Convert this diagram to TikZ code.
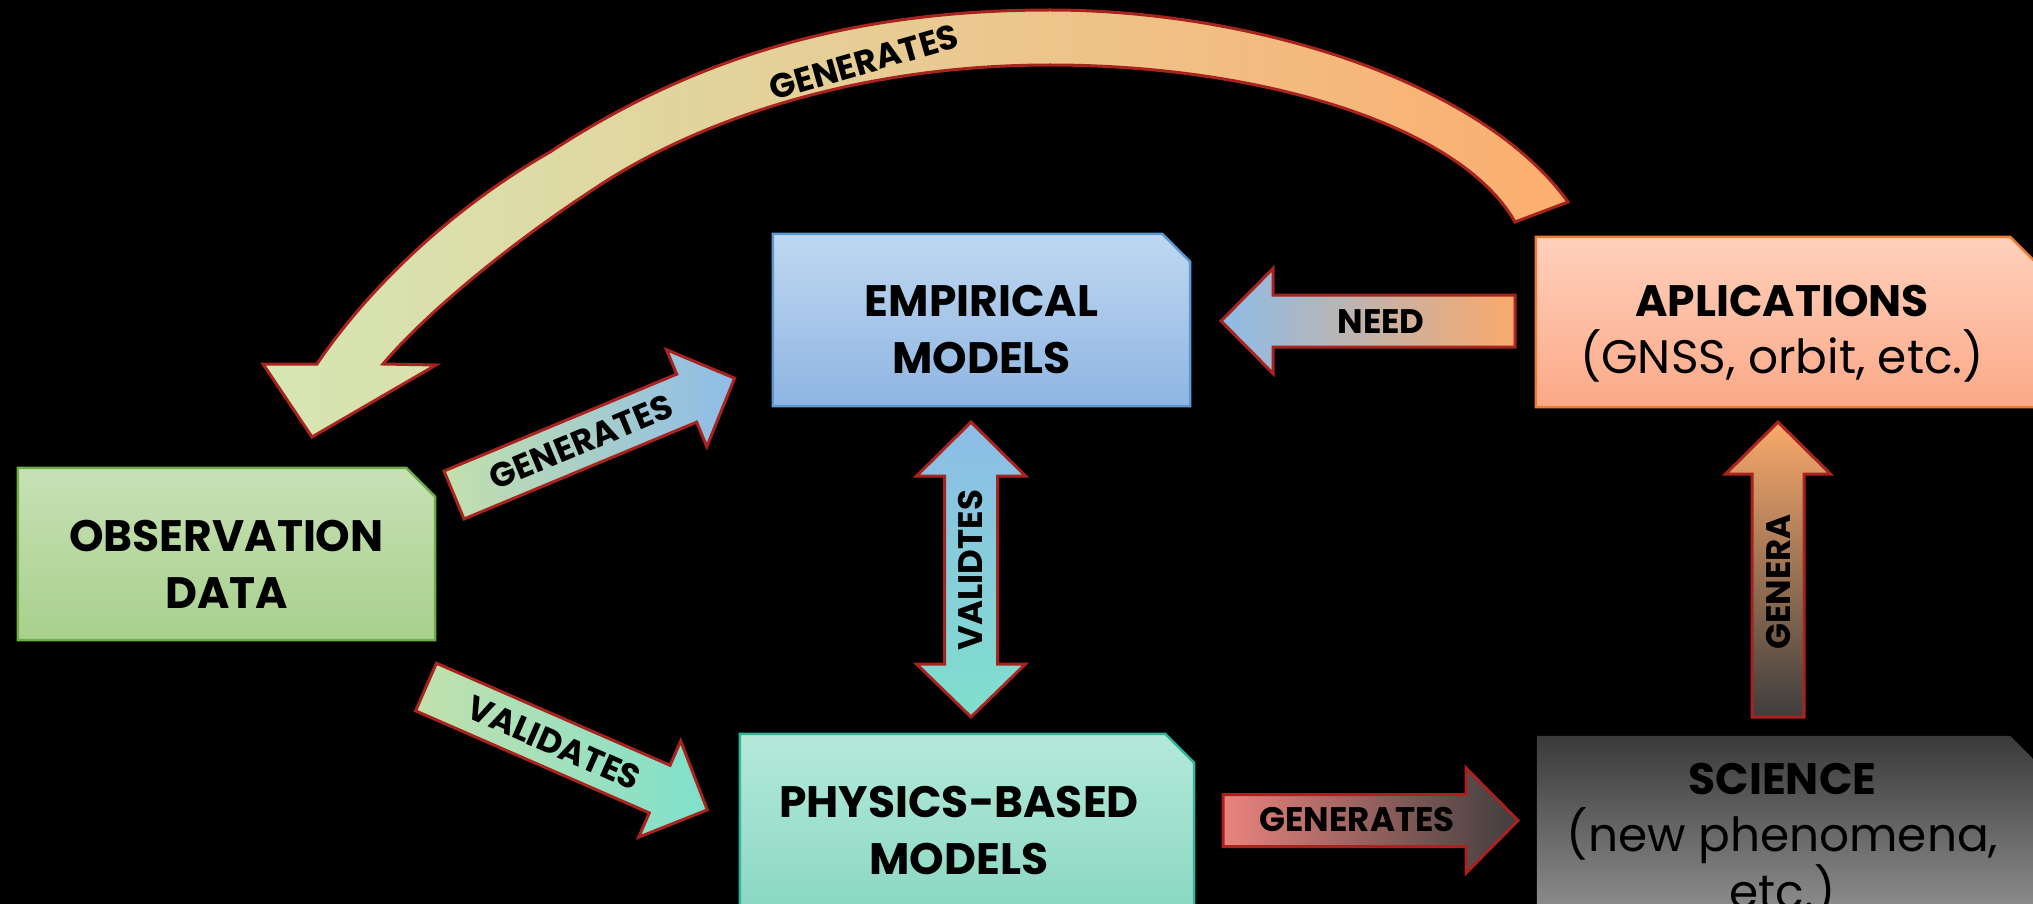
\documentclass[tikz,border=0pt]{standalone}
\usepackage{fontspec}
\setmainfont{Poppins}
\usetikzlibrary{backgrounds}
\definecolor{obsT}{HTML}{C7E1B5}\definecolor{obsB}{HTML}{A8D08D}\definecolor{obsD}{HTML}{70AD47}
\definecolor{empT}{HTML}{BFD8F0}\definecolor{empB}{HTML}{8FB5E3}\definecolor{empD}{HTML}{5B9BD5}
\definecolor{appT}{HTML}{FFD0BC}\definecolor{appB}{HTML}{FBA987}\definecolor{appD}{HTML}{ED7D31}
\definecolor{phyT}{HTML}{B5E9DA}\definecolor{phyB}{HTML}{86D6C0}\definecolor{phyD}{HTML}{36B39B}
\definecolor{sciT}{HTML}{3A3A3A}\definecolor{sciB}{HTML}{9B9B9B}
\definecolor{arrD}{HTML}{A8231E}
\definecolor{aBlue}{HTML}{8DBCE8}\definecolor{aTeal}{HTML}{7FE0CC}\definecolor{aGreen}{HTML}{C3E0AC}
\definecolor{aOrange}{HTML}{FAA96B}\definecolor{aSalmon}{HTML}{EA837D}\definecolor{aDark}{HTML}{3E3E3E}
\definecolor{cLeft}{HTML}{D5E7B4}\definecolor{cMid}{HTML}{EACC95}\definecolor{cRight}{HTML}{FCAE70}
\tikzset{
  boxshape/.style={inner sep=0pt},
  boxtxt/.style={font=\fontsize{44}{57}\selectfont, align=center, inner sep=0pt, text=black},
  lbl/.style={font=\fontsize{34}{40}\selectfont\bfseries, inner sep=0pt, text=black},
  arrline/.style={draw=arrD, line width=3pt, line join=miter},
  boxline/.style={line width=2.5pt},
}
\newcommand\regtxt{\fontsize{47}{57}\selectfont\mdseries}
\newcommand\blockarrow[5]{%
  \begin{scope}[shift={(#1,#2)}, rotate=#3]
    \path[arrline,#5] (0,-26) -- ({#4-52},-26) -- ({#4-52},-52.5) -- (#4,0)
      -- ({#4-52},52.5) -- ({#4-52},26) -- (0,26) -- cycle;
  \end{scope}}
\newcommand\cutbox[3]{%
  \path[boxline,#3] (#1.south west) -- (#1.north west) -- ([xshift=-#2]#1.north east)
    -- ([yshift=-#2]#1.north east) -- (#1.south east) -- cycle;}
\begin{document}
\begin{tikzpicture}[x=1pt,y=-1pt]
\useasboundingbox (0,0) rectangle (2033,904);
\begin{scope}[on background layer]
  \fill[black] (0,0) rectangle (2033,904);
\end{scope}

% boxes
\node[boxshape, minimum width=417pt, minimum height=172pt] (obs) at (226.5,554) {};
\node[boxshape, minimum width=417pt, minimum height=172pt] (emp) at (981.5,320) {};
\node[boxshape, minimum width=504pt, minimum height=170pt] (app) at (1788,322) {};
\node[boxshape, minimum width=454pt, minimum height=192pt] (phy) at (967,830) {};
\node[boxshape, minimum width=503pt, minimum height=204pt] (sci) at (1788.5,838) {};

\begin{scope}[on background layer]
  \cutbox{obs}{29pt}{draw=obsD, top color=obsT, bottom color=obsB}
  \cutbox{emp}{28pt}{draw=empD, top color=empT, bottom color=empB}
  \cutbox{app}{30pt}{draw=appD, top color=appT, bottom color=appB}
  \cutbox{phy}{29pt}{draw=phyD, top color=phyT, bottom color=phyB}
  \cutbox{sci}{30pt}{top color=sciT, bottom color=sciB}
\end{scope}

% box texts
\node[boxtxt] (obstxt) at ([yshift=-10pt]obs.center) {\bfseries OBSERVATION\\\bfseries DATA};
\node[boxtxt] (emptxt) at ([yshift=-10pt]emp.center) {\bfseries EMPIRICAL\\\bfseries MODELS};
\node[boxtxt] (apptxt) at ([xshift=-6pt,yshift=-12pt]app.center) {\bfseries APLICATIONS\\\regtxt (GNSS, orbit, etc.)};
\node[boxtxt] (phytxt) at ([xshift=-8pt]phy.center) {\bfseries PHYSICS-BASED\\\bfseries MODELS};
\node[boxtxt] (scitxt) at ([xshift=-6pt,yshift=-2pt]sci.center) {\bfseries SCIENCE\\\regtxt (new phenomena,\\\regtxt etc.)};

% straight block arrows
\blockarrow{1515}{321}{180}{294}{left color=aBlue, right color=aOrange}
\blockarrow{1223}{820.5}{0}{295}{left color=aSalmon, right color=aDark}
\blockarrow{1778}{717}{90}{295}{top color=aOrange, bottom color=aDark}
\blockarrow{454}{495}{22.6}{304}{left color=aGreen, right color=aBlue}
\blockarrow{426}{687}{-23.6}{307}{left color=aGreen, right color=aTeal}

% double arrow
\path[arrline, top color=aBlue, bottom color=aTeal]
  (971,422) -- (1025.5,476) -- (997.5,476) -- (997.5,664) -- (1025.5,664) -- (971,717)
  -- (916.5,664) -- (944.5,664) -- (944.5,476) -- (916.5,476) -- cycle;

% curved arrow
\path[arrline, left color=cLeft, middle color=cMid, right color=cRight]
  (263,364) -- (317,364)
  .. controls (360,300) and (440,215) .. (550,152)
  .. controls (693,58) and (850,10) .. (1050,10)
  .. controls (1250,10) and (1480,80) .. (1568,202)
  -- (1515,222)
  .. controls (1460,125) and (1260,65) .. (1050,65)
  .. controls (850,65) and (690,125) .. (597,187)
  .. controls (500,250) and (420,320) .. (383,364)
  -- (436,365) -- (312,437) -- cycle;

% labels
\node[lbl] (lneed) at (1381,322) {NEED};
\node[lbl] (lgenb) at (1357,820) {GENERATES};
\node[lbl, rotate=90] (lvalv) at (971,570) {VALIDTES};
\node[lbl, rotate=90] (lgenv) at (1778,582) {GENERA};
\node[lbl, rotate=22.6] (lgend) at (581,442) {GENERATES};
\node[lbl, rotate=-23.6] (lvald) at (554,743) {VALIDATES};
\node[lbl, rotate=16] (lgenc) at (864,62) {GENERATES};
\end{tikzpicture}
\end{document}
